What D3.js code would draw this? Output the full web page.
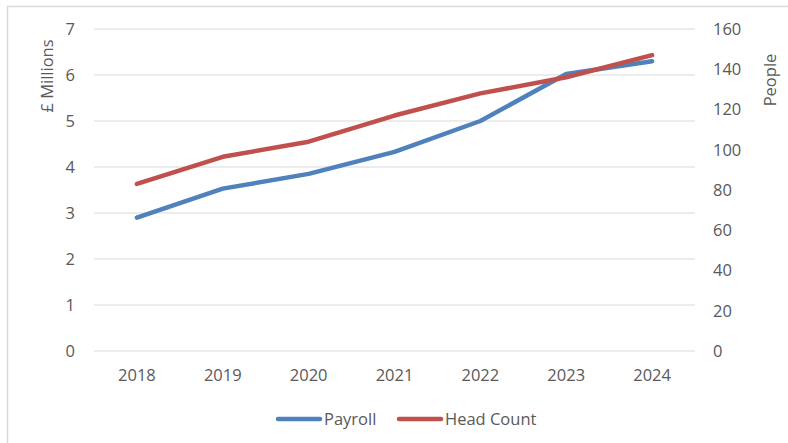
<!DOCTYPE html>
<html><head><meta charset="utf-8">
<script src="https://cdn.jsdelivr.net/npm/d3@7"></script>
<style>body{margin:0;background:#fff;}svg{display:block;}</style>
</head><body>
<svg id="c" width="788" height="443"></svg>
<script>
const years = ["2018","2019","2020","2021","2022","2023","2024"];
const payroll = [2.9, 3.53, 3.85, 4.33, 5.0, 6.02, 6.3];
const headCount = [83, 96.5, 104, 117, 128, 136, 147];
const leftTicks = [0,1,2,3,4,5,6,7];
const rightTicks = [0,20,40,60,80,100,120,140,160];
const seriesNames = ["Payroll","Head Count"];
const colors = ["#4F81BD","#C0504D"];

(function(){
const svg = d3.select("#c");
const font = "'Open Sans', sans-serif";
const textCol = "#595959";
const fs = 16.5;
svg.append("rect").attr("x",7.5).attr("y",6.5).attr("width",800).attr("height",460)
  .attr("fill","none").attr("stroke","#d9d9d9").attr("stroke-width",1.5);

const pL=94, pR=695, pT=29, pB=351;
const x = d3.scaleBand().domain(years).range([pL,pR]);
const yL = d3.scaleLinear().domain([0,7]).range([pB,pT]);
const yR = d3.scaleLinear().domain([0,160]).range([pB,pT]);

svg.append("g").selectAll("line").data(leftTicks).join("line")
  .attr("x1",pL).attr("x2",pR).attr("y1",d=>yL(d)).attr("y2",d=>yL(d))
  .attr("stroke","#d9d9d9").attr("stroke-width",1.2);

const gL = svg.append("g").attr("transform",`translate(${pL},0)`)
  .call(d3.axisLeft(yL).tickValues(leftTicks).tickFormat(d3.format("d")).tickSize(0).tickPadding(19));
const gR = svg.append("g").attr("transform",`translate(${pR},0)`)
  .call(d3.axisRight(yR).tickValues(rightTicks).tickFormat(d3.format("d")).tickSize(0).tickPadding(18));
const gX = svg.append("g").attr("transform",`translate(0,${pB})`)
  .call(d3.axisBottom(x).tickSize(0).tickPadding(18));
[gL,gR,gX].forEach(g=>{
  g.select(".domain").remove();
  g.selectAll("text").attr("font-family",font).attr("font-size",fs).attr("fill",textCol);
});

svg.append("text").attr("transform","translate(47,76) rotate(-90)")
  .attr("text-anchor","middle").attr("dy","0.35em").attr("font-family",font).attr("font-size",fs).attr("fill",textCol)
  .text("£ Millions");
svg.append("text").attr("transform","translate(770,80) rotate(-90)")
  .attr("text-anchor","middle").attr("dy","0.35em").attr("font-family",font).attr("font-size",fs).attr("fill",textCol)
  .text("People");

const cx = d=>x(d)+x.bandwidth()/2;
const lineL = d3.line().x((d,i)=>cx(years[i])).y(d=>yL(d));
const lineR = d3.line().x((d,i)=>cx(years[i])).y(d=>yR(d));
svg.append("path").datum(payroll).attr("d",lineL).attr("fill","none")
  .attr("stroke",colors[0]).attr("stroke-width",4.5).attr("stroke-linecap","round").attr("stroke-linejoin","round");
svg.append("path").datum(headCount).attr("d",lineR).attr("fill","none")
  .attr("stroke",colors[1]).attr("stroke-width",4.5).attr("stroke-linecap","round").attr("stroke-linejoin","round");

const lg = [{x:278,name:seriesNames[0],c:colors[0]},{x:399,name:seriesNames[1],c:colors[1]}];
lg.forEach(l=>{
  svg.append("line").attr("x1",l.x).attr("x2",l.x+42).attr("y1",419).attr("y2",419)
    .attr("stroke",l.c).attr("stroke-width",4.5).attr("stroke-linecap","round");
  svg.append("text").attr("x",l.x+46).attr("y",419).attr("dy","0.35em").attr("font-family",font).attr("font-size",fs)
    .attr("fill",textCol).text(l.name);
});
})();
</script>
</body></html>
